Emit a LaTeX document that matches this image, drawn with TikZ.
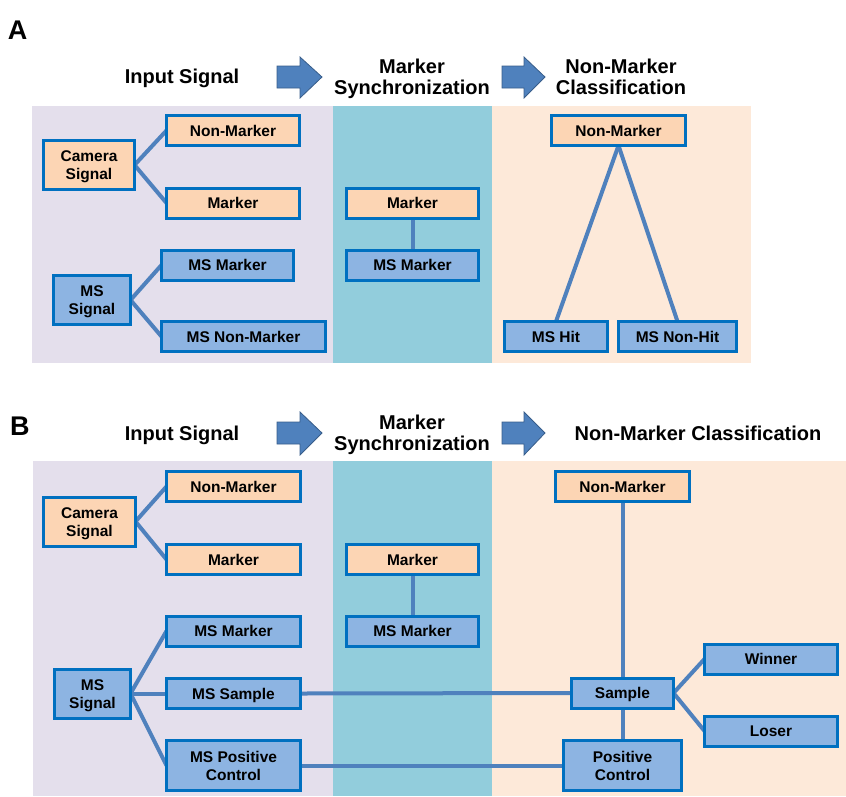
\documentclass[tikz,border=0pt]{standalone}
\usepackage{fontspec}
\setmainfont{Liberation Sans}
\definecolor{lavbg}{HTML}{E4DFEC}
\definecolor{tealbg}{HTML}{92CDDC}
\definecolor{peachbg}{HTML}{FDE9D9}
\definecolor{orfill}{HTML}{FCD5B4}
\definecolor{blfill}{HTML}{8DB4E2}
\definecolor{boxline}{HTML}{0070C0}
\definecolor{linkc}{HTML}{4F81BD}
\definecolor{arrowedge}{HTML}{385D8A}
\pgfdeclarelayer{bgfill}
\pgfdeclarelayer{links}
\pgfsetlayers{bgfill,links,main}
\begin{document}
\begin{tikzpicture}[x=1pt,y=-1pt,
  every node/.style={inner sep=0pt,outer sep=0pt},
  box/.style={draw=boxline,line width=3pt,font=\fontsize{15.5}{18}\selectfont\bfseries,
    minimum height=30pt,text height=11.2pt,text depth=0pt,align=center},
  twoline/.style={minimum height=49pt,text height=29.2pt,text depth=0pt},
  orbox/.style={box,fill=orfill},
  blbox/.style={box,fill=blfill},
  link/.style={draw=linkc,line width=4pt},
  title/.style={font=\fontsize{20}{21}\selectfont\bfseries,align=center,anchor=base},
  panel/.style={font=\fontsize{27}{30}\selectfont\bfseries,anchor=base west},
  blockarrow/.style={fill=linkc,draw=arrowedge,line width=0.8pt}
]
\useasboundingbox (0,0) rectangle (846,796);

% ---------------- Panel A ----------------
\node[panel] (labA) at (8,39) {A};
\node[title] (tA1) at (182,83) {Input Signal};
\node[title] (tA2) at (412,94) {Marker\\Synchronization};
\node[title] (tA3) at (621,94) {Non-Marker\\Classification};
\filldraw[blockarrow] (277,66)--(300,66)--(300,57)--(322,77)--(300,98)--(300,88)--(277,88)--cycle;
\filldraw[blockarrow] (502,66)--(524,66)--(524,57)--(545,77)--(524,98)--(524,88)--(502,88)--cycle;

\begin{pgfonlayer}{bgfill}
  \fill[lavbg] (32,106) rectangle (333,363);
  \fill[tealbg] (333,106) rectangle (492,363);
  \fill[peachbg] (492,106) rectangle (751,363);
\end{pgfonlayer}

\node[orbox,twoline,minimum width=91pt] (camA) at (89,165) {Camera\\Signal};
\node[orbox,minimum width=133pt] (nmA1) at (233,130.5) {Non-Marker};
\node[orbox,minimum width=133pt] (mkA1) at (233,203) {Marker};
\node[blbox,twoline,minimum width=77pt] (mssA) at (92,300) {MS\\Signal};
\node[blbox,minimum width=132pt] (msmA1) at (227.5,265) {MS Marker};
\node[blbox,minimum width=164pt] (msnmA) at (243.5,336.5) {MS Non-Marker};
\node[orbox,minimum width=132pt] (mkA2) at (412.5,203) {Marker};
\node[blbox,minimum width=132pt] (msmA2) at (412.5,265) {MS Marker};
\node[orbox,minimum width=134pt] (nmA3) at (618.5,130.5) {Non-Marker};
\node[blbox,minimum width=103pt] (hitA) at (556,336.5) {MS Hit};
\node[blbox,minimum width=118pt] (nhitA) at (677.5,336.5) {MS Non-Hit};

\begin{pgfonlayer}{links}
  \draw[link] (camA.east) -- (nmA1.west);
  \draw[link] (camA.east) -- (mkA1.west);
  \draw[link] (mssA.east) -- (msmA1.west);
  \draw[link] (mssA.east) -- (msnmA.west);
  \draw[link] (mkA2.south) -- (msmA2.north);
  \draw[link] (nmA3.south) -- (hitA.north);
  \draw[link] (nmA3.south) -- (nhitA.north);
\end{pgfonlayer}

% ---------------- Panel B ----------------
\node[panel] (labB) at (10,435) {B};
\node[title] (tB1) at (182,440) {Input Signal};
\node[title] (tB2) at (412,450) {Marker\\Synchronization};
\node[title] (tB3) at (698,440) {Non-Marker Classification};
\filldraw[blockarrow] (277,422)--(300,422)--(300,412)--(322,433)--(300,455)--(300,444)--(277,444)--cycle;
\filldraw[blockarrow] (502,422)--(524,422)--(524,412)--(545,433)--(524,455)--(524,444)--(502,444)--cycle;

\begin{pgfonlayer}{bgfill}
  \fill[lavbg] (33,461) rectangle (333,796);
  \fill[tealbg] (333,461) rectangle (492,796);
  \fill[peachbg] (492,461) rectangle (846,796);
\end{pgfonlayer}

\node[orbox,twoline,minimum width=92pt] (camB) at (89.5,521.5) {Camera\\Signal};
\node[orbox,minimum width=134pt] (nmB1) at (233.5,486.5) {Non-Marker};
\node[orbox,minimum width=134pt] (mkB1) at (233.5,559.5) {Marker};
\node[orbox,minimum width=132pt] (mkB2) at (412.5,559.5) {Marker};
\node[orbox,minimum width=134pt] (nmB3) at (622.5,486.5) {Non-Marker};
\node[blbox,minimum width=134pt] (msmB1) at (233.5,631) {MS Marker};
\node[blbox,minimum width=132pt] (msmB2) at (412.5,631) {MS Marker};
\node[blbox,twoline,minimum width=76pt] (mssB) at (92.5,693.5) {MS\\Signal};
\node[blbox,minimum width=134pt] (smpB1) at (233.5,693.5) {MS Sample};
\node[blbox,twoline,minimum width=134pt,minimum height=50pt] (pcB1) at (233.5,765.5) {MS Positive\\Control};
\node[blbox,minimum width=102pt] (smpB2) at (622.5,693) {Sample};
\node[blbox,twoline,minimum width=118pt,minimum height=50pt] (pcB2) at (622.5,765.5) {Positive\\Control};
\node[blbox,minimum width=133pt] (winB) at (771,659) {Winner};
\node[blbox,minimum width=133pt] (losB) at (771,731) {Loser};

\begin{pgfonlayer}{links}
  \draw[link] (camB.east) -- (nmB1.west);
  \draw[link] (camB.east) -- (mkB1.west);
  \draw[link] (mkB2.south) -- (msmB2.north);
  \draw[link] (mssB.east) -- (msmB1.west);
  \draw[link] (mssB.east) -- (smpB1.west);
  \draw[link] (mssB.east) -- (pcB1.west);
  \draw[link] (smpB1.east) -- (smpB2.west);
  \draw[link] (pcB1.east) -- (pcB2.west);
  \draw[link] (nmB3.south) -- (smpB2.north);
  \draw[link] (smpB2.south) -- (pcB2.north);
  \draw[link] (smpB2.east) -- (winB.west);
  \draw[link] (smpB2.east) -- (losB.west);
\end{pgfonlayer}
\end{tikzpicture}
\end{document}
